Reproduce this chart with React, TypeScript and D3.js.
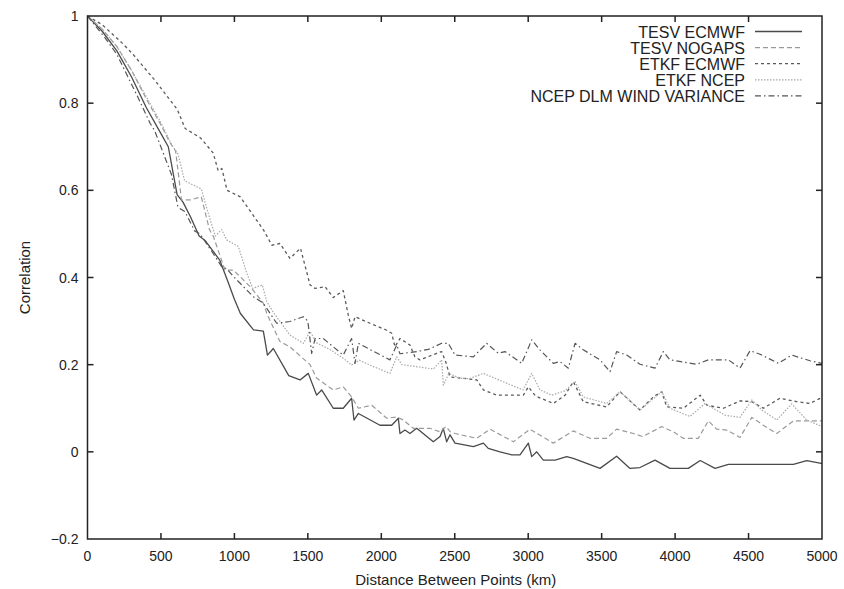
import React from 'react';
import * as d3 from 'd3';

const width = 844;
const height = 589;
const margin = { top: 16, right: 22, bottom: 50, left: 87.5 };

// distance (km), correlation
const tesvEcmwf: [number, number][] = [
  [0, 1], [100, 0.965], [200, 0.92], [300, 0.86], [400, 0.79], [500, 0.73], [550, 0.7], [610, 0.59],
  [650, 0.573], [700, 0.54], [760, 0.495], [800, 0.485], [900, 0.44], [960, 0.387], [1000, 0.35],
  [1040, 0.318], [1130, 0.28], [1197, 0.277], [1225, 0.222], [1265, 0.237], [1370, 0.175], [1447, 0.165],
  [1503, 0.18], [1560, 0.13], [1594, 0.142], [1673, 0.1], [1741, 0.1], [1798, 0.123], [1814, 0.073],
  [1844, 0.088], [1991, 0.061], [2071, 0.061], [2116, 0.077], [2127, 0.042], [2161, 0.05], [2195, 0.042],
  [2241, 0.054], [2354, 0.023], [2400, 0.035], [2422, 0.054], [2445, 0.023], [2468, 0.039], [2502, 0.02],
  [2627, 0.012], [2695, 0.02], [2728, 0.008], [2808, 0.0], [2888, -0.007], [2944, -0.007], [3001, 0.02],
  [3024, -0.011], [3058, 0.0], [3103, -0.019], [3183, -0.019], [3262, -0.011], [3307, -0.015],
  [3489, -0.038], [3602, -0.01], [3693, -0.038], [3761, -0.036], [3863, -0.019], [3965, -0.038],
  [4090, -0.038], [4171, -0.02], [4272, -0.038], [4363, -0.029], [4805, -0.029], [4896, -0.02],
  [4986, -0.026], [5000, -0.027],
];

const tesvNogaps: [number, number][] = [
  [0, 1], [100, 0.97], [200, 0.93], [300, 0.875], [400, 0.81], [500, 0.75], [560, 0.71], [600, 0.69],
  [640, 0.578], [700, 0.578], [775, 0.585], [830, 0.51], [857, 0.494], [936, 0.417], [992, 0.417],
  [1030, 0.405], [1118, 0.375], [1197, 0.341], [1220, 0.318], [1310, 0.253], [1378, 0.241], [1515, 0.2],
  [1560, 0.169], [1673, 0.142], [1741, 0.149], [1798, 0.126], [1844, 0.1], [1935, 0.107], [2037, 0.077],
  [2105, 0.08], [2150, 0.073], [2218, 0.054], [2331, 0.054], [2400, 0.046], [2440, 0.058], [2470, 0.046],
  [2502, 0.042], [2650, 0.031], [2740, 0.052], [2899, 0.023], [3012, 0.052], [3171, 0.02], [3307, 0.048],
  [3421, 0.031], [3534, 0.031], [3602, 0.052], [3716, 0.042], [3780, 0.035], [3909, 0.058], [3988, 0.046],
  [4056, 0.031], [4158, 0.031], [4226, 0.071], [4283, 0.052], [4351, 0.05], [4442, 0.033], [4522, 0.079],
  [4601, 0.061], [4692, 0.042], [4805, 0.071], [5000, 0.071],
];

const etkfEcmwf: [number, number][] = [
  [0, 1], [100, 0.98], [230, 0.94], [310, 0.912], [460, 0.852], [610, 0.786], [665, 0.742], [770, 0.72],
  [855, 0.686], [890, 0.645], [915, 0.65], [950, 0.6], [1040, 0.585], [1200, 0.508], [1255, 0.474],
  [1310, 0.478], [1378, 0.444], [1450, 0.467], [1515, 0.383], [1549, 0.375], [1617, 0.379], [1673, 0.354],
  [1741, 0.37], [1775, 0.314], [1798, 0.283], [1821, 0.31], [1923, 0.295], [2037, 0.279], [2071, 0.272],
  [2093, 0.241], [2127, 0.26], [2195, 0.245], [2229, 0.218], [2263, 0.211], [2377, 0.226], [2411, 0.23],
  [2440, 0.205], [2468, 0.172], [2650, 0.165], [2695, 0.142], [2786, 0.13], [2967, 0.13], [3001, 0.149],
  [3050, 0.128], [3171, 0.111], [3251, 0.13], [3307, 0.161], [3375, 0.115], [3534, 0.103], [3625, 0.138],
  [3761, 0.096], [3852, 0.126], [3909, 0.138], [3943, 0.103], [4056, 0.1], [4171, 0.13], [4216, 0.107],
  [4329, 0.1], [4442, 0.117], [4522, 0.115], [4601, 0.1], [4714, 0.123], [4828, 0.115], [4918, 0.111],
  [5000, 0.125],
];

const etkfNcep: [number, number][] = [
  [0, 1], [100, 0.97], [200, 0.93], [300, 0.875], [400, 0.815], [500, 0.755], [571, 0.706], [616, 0.683],
  [661, 0.622], [775, 0.603], [822, 0.547], [870, 0.495], [913, 0.51], [948, 0.486], [1027, 0.471],
  [1084, 0.41], [1125, 0.375], [1190, 0.383], [1220, 0.345], [1265, 0.32], [1378, 0.268], [1469, 0.249],
  [1515, 0.276], [1560, 0.25], [1650, 0.235], [1740, 0.215], [1798, 0.199], [1850, 0.21], [1950, 0.195],
  [2059, 0.18], [2105, 0.218], [2140, 0.2], [2250, 0.195], [2354, 0.19], [2411, 0.211], [2422, 0.153],
  [2460, 0.18], [2536, 0.169], [2600, 0.168], [2695, 0.18], [2800, 0.165], [2965, 0.142], [3024, 0.18],
  [3080, 0.142], [3160, 0.13], [3250, 0.14], [3319, 0.161], [3375, 0.126], [3534, 0.111], [3625, 0.138],
  [3761, 0.096], [3909, 0.138], [3965, 0.1], [4101, 0.081], [4203, 0.111], [4340, 0.084], [4442, 0.079],
  [4522, 0.119], [4590, 0.096], [4692, 0.073], [4794, 0.11], [4896, 0.073], [5000, 0.058],
];

const ncepDlm: [number, number][] = [
  [0, 1], [117, 0.951], [200, 0.912], [344, 0.813], [426, 0.754], [457, 0.737], [571, 0.637], [616, 0.561],
  [664, 0.551], [729, 0.507], [766, 0.5], [856, 0.455], [913, 0.425], [948, 0.42], [1000, 0.4],
  [1129, 0.356], [1197, 0.341], [1288, 0.295], [1378, 0.299], [1469, 0.31], [1500, 0.3], [1526, 0.226],
  [1549, 0.26], [1605, 0.26], [1741, 0.222], [1798, 0.26], [1821, 0.203], [1844, 0.249], [1950, 0.23],
  [2059, 0.211], [2105, 0.245], [2127, 0.225], [2241, 0.23], [2320, 0.235], [2411, 0.249], [2456, 0.249],
  [2502, 0.222], [2627, 0.218], [2717, 0.249], [2797, 0.226], [2842, 0.23], [2956, 0.203], [3024, 0.257],
  [3080, 0.234], [3171, 0.203], [3216, 0.207], [3273, 0.192], [3319, 0.249], [3375, 0.234], [3489, 0.211],
  [3557, 0.184], [3602, 0.23], [3670, 0.222], [3761, 0.201], [3863, 0.192], [3920, 0.23], [3965, 0.211],
  [4147, 0.201], [4226, 0.211], [4363, 0.211], [4442, 0.192], [4510, 0.232], [4578, 0.224], [4703, 0.203],
  [4794, 0.222], [4918, 0.209], [5000, 0.203],
];

const seriesNames = ['TESV ECMWF', 'TESV NOGAPS', 'ETKF ECMWF', 'ETKF NCEP', 'NCEP DLM WIND VARIANCE'];
const seriesData = [tesvEcmwf, tesvNogaps, etkfEcmwf, etkfNcep, ncepDlm];
const seriesStyles = [
  { stroke: '#4a4a4a', dash: 'none', w: 1.3 },
  { stroke: '#9a9a9a', dash: '5,3', w: 1.2 },
  { stroke: '#5a5a5a', dash: '3,3', w: 1.3 },
  { stroke: '#a8a8a8', dash: '1.5,1.5', w: 1.2 },
  { stroke: '#555555', dash: '6,3,1.5,3', w: 1.2 },
];

const xTicks = [0, 500, 1000, 1500, 2000, 2500, 3000, 3500, 4000, 4500, 5000];
const yTicks = [-0.2, 0, 0.2, 0.4, 0.6, 0.8, 1];

const font = 'Liberation Sans, Arial, Helvetica, sans-serif';

export default function App() {
  const x = d3.scaleLinear().domain([0, 5000]).range([margin.left, width - margin.right]);
  const y = d3.scaleLinear().domain([-0.2, 1]).range([height - margin.bottom, margin.top]);
  const line = d3
    .line<[number, number]>()
    .x((d) => x(d[0]))
    .y((d) => y(d[1]));

  const x0 = x(0);
  const x1 = x(5000);
  const y0 = y(-0.2);
  const y1 = y(1);
  const tick = 6;

  return (
    <div style={{ position: 'absolute', left: 0, top: 0 }}>
      <svg width={width} height={height} viewBox={`0 0 ${width} ${height}`} style={{ display: 'block', background: '#fff' }}>
        {/* curves */}
        <g fill="none">
          {seriesData.map((d, i) => (
            <path
              key={seriesNames[i]}
              d={line(d) || ''}
              stroke={seriesStyles[i].stroke}
              strokeWidth={seriesStyles[i].w}
              strokeDasharray={seriesStyles[i].dash}
              strokeLinejoin="round"
            />
          ))}
        </g>

        {/* frame and mirrored ticks */}
        <g stroke="#222" strokeWidth={1.5}>
          <rect x={x0} y={y1} width={x1 - x0} height={y0 - y1} fill="none" />
          {xTicks.slice(1, -1).map((t) => (
            <g key={'xt' + t}>
              <line x1={x(t)} x2={x(t)} y1={y0} y2={y0 - tick} />
              <line x1={x(t)} x2={x(t)} y1={y1} y2={y1 + tick} />
            </g>
          ))}
          {yTicks.slice(1, -1).map((t) => (
            <g key={'yt' + t}>
              <line x1={x0} x2={x0 + tick} y1={y(t)} y2={y(t)} />
              <line x1={x1} x2={x1 - tick} y1={y(t)} y2={y(t)} />
            </g>
          ))}
        </g>

        {/* tick labels */}
        <g fontFamily={font} fontSize={14} fill="#222">
          {xTicks.map((t) => (
            <text key={'xl' + t} x={x(t)} y={y0 + 22} textAnchor="middle">
              {t}
            </text>
          ))}
          {yTicks.map((t) => (
            <text key={'yl' + t} x={x0 - 9} y={y(t) + 5} textAnchor="end">
              {d3.format('~g')(t)}
            </text>
          ))}
        </g>

        {/* axis titles */}
        <text x={(x0 + x1) / 2 + 1} y={585} textAnchor="middle" fontFamily={font} fontSize={15} fill="#222">
          Distance Between Points (km)
        </text>
        <text
          transform={`translate(30, ${(y0 + y1) / 2}) rotate(-90)`}
          textAnchor="middle"
          fontFamily={font}
          fontSize={15}
          fill="#222"
        >
          Correlation
        </text>

        {/* legend */}
        <g fontFamily={font} fontSize={16} fill="#222">
          {seriesNames.map((name, i) => {
            const by = 37.5 + i * 16.1;
            return (
              <g key={'lg' + name}>
                <text x={745} y={by} textAnchor="end">
                  {name}
                </text>
                <line
                  x1={755}
                  x2={802}
                  y1={by - 6}
                  y2={by - 6}
                  stroke={seriesStyles[i].stroke}
                  strokeWidth={seriesStyles[i].w}
                  strokeDasharray={seriesStyles[i].dash}
                />
              </g>
            );
          })}
        </g>
      </svg>
    </div>
  );
}
